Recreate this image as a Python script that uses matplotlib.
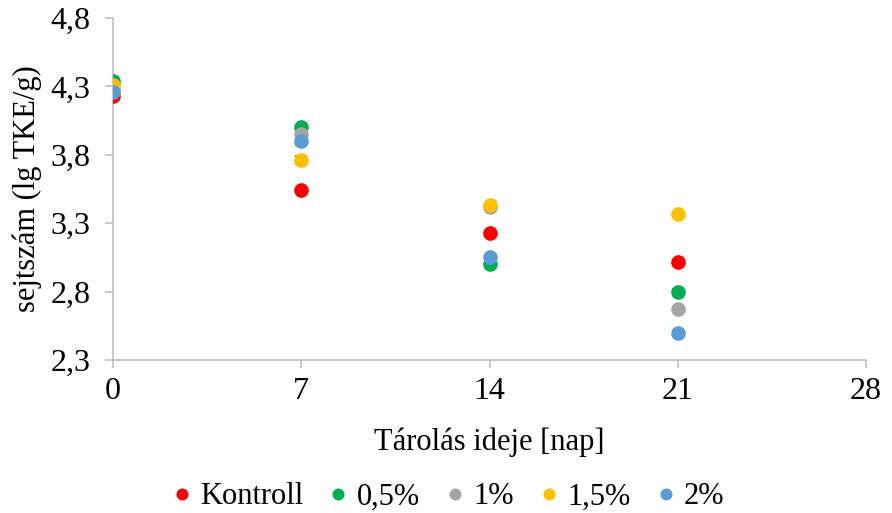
import matplotlib.pyplot as plt

plt.rcParams['font.family'] = ['Liberation Serif', 'DejaVu Serif']

days = [0, 7, 14, 21]
series = ['Kontroll', '0,5%', '1%', '1,5%', '2%']
colors = ['#FF0000', '#00B050', '#A5A5A5', '#FFC000', '#5B9BD5']

kontroll = [4.23, 3.54, 3.23, 3.02]
p05 = [4.34, 4.00, 3.00, 2.80]
p1 = [4.29, 3.95, 3.42, 2.67]
p15 = [4.31, 3.76, 3.43, 3.37]
p2 = [4.26, 3.90, 3.05, 2.50]

err_kontroll = [0.01, 0.01, 0.01, 0.01]
err_p05 = [0.01, 0.01, 0.01, 0.02]
err_p1 = [0.01, 0.02, 0.02, 0.01]
err_p15 = [0.01, 0.03, 0.02, 0.01]
err_p2 = [0.01, 0.03, 0.01, 0.01]

values = [kontroll, p05, p1, p15, p2]
errors = [err_kontroll, err_p05, err_p1, err_p15, err_p2]

fig = plt.figure(figsize=(8.92, 5.13), dpi=100)
ax = fig.add_axes([113 / 892, 153 / 513, 753 / 892, 342 / 513])

for name, col, vals, errs in zip(series, colors, values, errors):
    ax.errorbar(days, vals, yerr=errs, fmt='none', ecolor='#595959',
                elinewidth=1, capsize=4, capthick=1.2, zorder=2)
    ax.plot(days, vals, 'o', color=col, markersize=9.5, label=name, zorder=3)

ax.set_xlim(0, 28)
ax.set_ylim(2.3, 4.8)
ax.set_xticks([0, 7, 14, 21, 28])
ax.set_yticks([2.3, 2.8, 3.3, 3.8, 4.3, 4.8])
ax.set_yticklabels(['2,3', '2,8', '3,3', '3,8', '4,3', '4,8'])

for s in ['top', 'right']:
    ax.spines[s].set_visible(False)
for s in ['left', 'bottom']:
    ax.spines[s].set_color('#BFBFBF')
    ax.spines[s].set_linewidth(1.2)
ax.tick_params(axis='both', colors='#BFBFBF', labelcolor='black',
               labelsize=23, length=6, width=1.2)
ax.tick_params(axis='x', pad=6)
ax.tick_params(axis='y', pad=10)

ax.set_xlabel('Tárolás ideje [nap]', fontsize=22, labelpad=16)
ax.set_ylabel('sejtszám (lg TKE/g)', fontsize=22, labelpad=6)

fig.legend(*ax.get_legend_handles_labels(), loc='center',
           bbox_to_anchor=(447 / 892, 1 - 497 / 513), ncol=5,
           frameon=False, fontsize=22, handletextpad=0.2, columnspacing=0.75,
           markerscale=0.8, handlelength=0.8)

fig.savefig('out.png', dpi=100)
